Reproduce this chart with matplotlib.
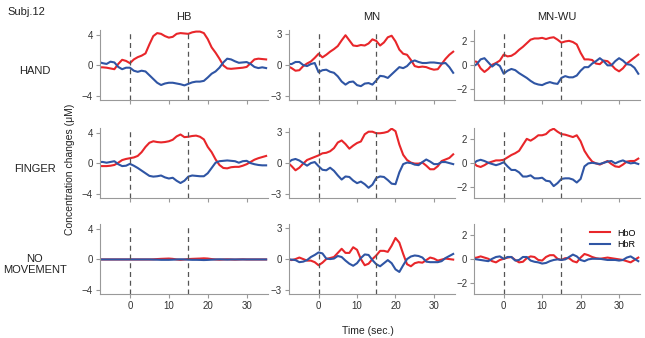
import numpy as np
import matplotlib
matplotlib.use("Agg")
import matplotlib.pyplot as plt

plt.rcParams['font.family'] = ['Liberation Sans', 'DejaVu Sans']

# time axis (sec.), one sample per second
t = np.arange(-8, 36)

conditions = ['HB', 'MN', 'MN-WU']
tasks = ['HAND', 'FINGER', 'NO\nMOVEMENT']
yticks = {'HB': [-4, 0, 4], 'MN': [-3, 0, 3], 'MN-WU': [-2, 0, 2]}
ylims = {'HB': (-4.6, 4.7), 'MN': (-3.4, 3.4), 'MN-WU': (-2.95, 2.9)}

# ---- HAND ----
hand_hb_hbo = [-0.25, -0.25, -0.3, -0.4, -0.5, 0.2, 0.75, 0.6, 0.3, 0.8, 1.1, 1.3, 1.6, 2.8,
               3.9, 4.3, 4.2, 3.9, 3.7, 3.8, 4.2, 4.3, 4.25, 4.2, 4.4, 4.5, 4.5, 4.3, 3.5, 2.4,
               1.7, 0.9, 0.0, -0.4, -0.45, -0.4, -0.35, -0.3, -0.2, 0.3, 0.8, 0.9, 0.85, 0.8]
hand_hb_hbr = [0.45, 0.3, 0.2, 0.5, 0.4, -0.2, -0.5, -0.3, -0.3, -0.7, -0.85, -0.7, -0.8, -1.3,
               -1.8, -2.3, -2.6, -2.4, -2.3, -2.3, -2.4, -2.5, -2.65, -2.45, -2.25, -2.15, -2.15,
               -2.05, -1.6, -1.1, -0.8, -0.3, 0.4, 0.9, 0.8, 0.55, 0.35, 0.4, 0.45, 0.2, -0.2,
               -0.35, -0.25, -0.35]
hand_mn_hbo = [-0.1, -0.3, -0.55, -0.5, -0.1, 0.15, 0.35, 0.7, 1.1, 0.75, 1.0, 1.3, 1.55, 1.85,
               2.4, 2.9, 2.4, 1.9, 1.85, 1.95, 1.9, 2.1, 2.5, 2.35, 1.9, 2.2, 2.7, 2.85, 2.3, 1.5,
               1.1, 1.0, 0.5, -0.1, -0.2, -0.15, -0.2, -0.35, -0.45, -0.4, 0.1, 0.6, 1.0, 1.3]
hand_mn_hbr = [0.1, 0.1, 0.3, 0.3, 0.0, -0.1, 0.1, 0.2, -0.7, -0.5, -0.45, -0.65, -0.75, -1.1,
               -1.6, -1.9, -1.65, -1.6, -1.95, -2.05, -1.8, -1.75, -1.9, -1.5, -1.05, -1.1, -1.25,
               -0.9, -0.55, -0.2, -0.3, -0.1, 0.3, 0.45, 0.3, 0.2, 0.2, 0.25, 0.25, 0.2, 0.15,
               0.2, -0.2, -0.75]
hand_wu_hbo = [0.3, 0.25, -0.3, -0.6, -0.35, 0.0, 0.15, 0.35, 0.85, 0.7, 0.75, 0.95, 1.25, 1.5,
               1.8, 2.1, 2.2, 2.2, 2.25, 2.15, 2.25, 2.3, 2.1, 1.85, 1.95, 2.0, 1.9, 1.7, 1.0,
               0.45, 0.45, 0.4, 0.1, 0.05, 0.35, 0.3, 0.0, -0.35, -0.55, -0.3, 0.1, 0.35, 0.6, 0.85]
hand_wu_hbr = [-0.15, 0.05, 0.45, 0.55, 0.2, -0.15, 0.1, -0.1, -0.75, -0.5, -0.35, -0.45, -0.7,
               -0.9, -1.1, -1.35, -1.55, -1.65, -1.7, -1.55, -1.45, -1.55, -1.6, -1.1, -0.95,
               -1.05, -1.05, -0.9, -0.5, -0.2, -0.2, 0.1, 0.3, 0.55, 0.3, -0.05, -0.05, 0.3, 0.55,
               0.35, 0.05, 0.0, -0.25, -0.75]

# ---- FINGER ----
finger_hb_hbo = [-0.35, -0.35, -0.35, -0.3, -0.2, 0.1, 0.45, 0.6, 0.7, 0.8, 1.0, 1.5, 2.2, 2.75,
                 2.95, 2.85, 2.8, 2.85, 2.95, 3.15, 3.6, 3.85, 3.5, 3.55, 3.65, 3.7, 3.55, 3.2,
                 2.2, 1.5, 0.55, -0.2, -0.6, -0.65, -0.5, -0.45, -0.45, -0.3, -0.1, 0.2, 0.5,
                 0.7, 0.85, 1.0]
finger_hb_hbr = [0.2, 0.2, 0.1, 0.2, 0.3, -0.1, -0.35, -0.3, -0.05, -0.3, -0.6, -0.95, -1.3,
                 -1.65, -1.75, -1.7, -1.6, -1.85, -2.0, -1.9, -2.3, -2.6, -2.3, -1.75, -1.6,
                 -1.65, -1.7, -1.7, -1.3, -0.6, 0.1, 0.3, 0.35, 0.4, 0.35, 0.3, 0.1, 0.3, 0.35,
                 0.05, -0.1, -0.2, -0.25, -0.25]
finger_mn_hbo = [0.05, -0.3, -0.7, -0.45, -0.05, 0.3, 0.45, 0.6, 0.75, 0.95, 1.0, 1.15, 1.45,
                 2.0, 2.2, 1.85, 1.4, 1.7, 1.95, 2.1, 2.8, 3.05, 3.05, 2.9, 2.9, 2.95, 3.05, 3.35,
                 3.1, 1.8, 0.8, 0.3, 0.05, -0.05, -0.05, 0.05, -0.25, -0.6, -0.6, -0.3, 0.2, 0.35,
                 0.5, 0.85]
finger_mn_hbr = [0.0, 0.3, 0.4, 0.25, 0.0, -0.25, 0.0, 0.1, -0.3, -0.65, -0.7, -0.45, -0.75,
                 -1.2, -1.6, -1.3, -1.35, -1.7, -1.95, -1.8, -2.05, -2.4, -2.1, -1.45, -1.3,
                 -1.35, -1.65, -2.0, -2.05, -0.9, -0.1, 0.05, 0.0, -0.15, -0.2, 0.1, 0.35, 0.15,
                 -0.1, -0.1, 0.1, 0.1, 0.0, -0.1]
finger_wu_hbo = [0.05, -0.25, -0.35, -0.2, 0.0, 0.1, 0.2, 0.2, 0.25, 0.45, 0.65, 0.8, 1.0, 1.5,
                 2.0, 1.85, 2.05, 2.3, 2.3, 2.4, 2.7, 2.85, 2.6, 2.4, 2.35, 2.25, 2.15, 2.3, 1.8,
                 1.0, 0.5, 0.1, -0.05, -0.15, 0.0, 0.15, -0.1, -0.3, -0.35, -0.15, 0.1, 0.15,
                 0.15, 0.35]
finger_wu_hbr = [-0.1, 0.15, 0.25, 0.15, 0.0, -0.1, -0.2, -0.1, 0.05, -0.3, -0.6, -0.6, -0.8,
                 -1.15, -1.15, -1.05, -1.3, -1.3, -1.25, -1.5, -1.55, -1.95, -1.7, -1.35, -1.3,
                 -1.3, -1.4, -1.65, -1.35, -0.3, -0.05, 0.0, -0.05, -0.1, 0.0, 0.1, 0.15, -0.05,
                 0.1, 0.2, 0.05, -0.05, 0.0, -0.1]

# ---- NO MOVEMENT ----
nomove_hb_hbo = [0.0, 0.0, 0.0, 0.0, 0.0, 0.0, 0.0, 0.0, 0.0, 0.0, 0.0, 0.0, 0.0, 0.0, 0.02,
                 0.05, 0.08, 0.1, 0.12, 0.08, 0.0, -0.05, 0.0, 0.05, 0.08, 0.1, 0.12, 0.15, 0.12,
                 0.05, 0.0, -0.03, 0.0, 0.02, 0.0, -0.02, 0.0, 0.02, 0.0, 0.0, 0.0, 0.0, 0.0, 0.0]
nomove_hb_hbr = [0.0, 0.0, 0.0, 0.0, 0.0, 0.0, 0.0, 0.0, 0.0, 0.0, 0.0, 0.0, 0.0, 0.0, -0.02,
                 -0.03, -0.05, -0.05, -0.05, -0.03, 0.0, 0.02, 0.0, -0.03, -0.05, -0.05, -0.06,
                 -0.08, -0.06, -0.03, 0.0, 0.02, 0.0, -0.02, 0.0, 0.0, 0.0, 0.0, 0.0, 0.0, 0.0,
                 0.0, 0.0, 0.0]
nomove_mn_hbo = [0.0, -0.1, 0.0, 0.15, 0.0, -0.15, -0.15, -0.3, -0.6, -0.35, 0.0, 0.1, 0.2, 0.6,
                 1.0, 0.6, 0.6, 1.15, 0.9, 0.0, -0.6, -0.45, 0.0, 0.35, 0.8, 0.8, 0.7, 1.3, 2.05,
                 1.6, 0.5, -0.5, -0.7, -0.4, -0.3, -0.35, -0.1, 0.15, 0.05, -0.15, -0.05, 0.05,
                 0.0, -0.05]
nomove_mn_hbr = [-0.05, -0.05, -0.1, -0.3, -0.25, -0.1, 0.2, 0.4, 0.65, 0.55, 0.05, 0.0, 0.05,
                 0.3, 0.2, -0.15, -0.45, -0.65, -0.4, 0.1, 0.45, 0.4, -0.1, -0.5, -0.7, -0.4,
                 -0.1, -0.4, -1.0, -1.25, -0.6, 0.0, 0.25, 0.35, 0.3, 0.15, -0.25, -0.3, -0.3,
                 -0.3, -0.2, 0.1, 0.3, 0.5]
nomove_wu_hbo = [0.05, 0.1, 0.2, 0.1, 0.0, -0.2, -0.3, -0.1, 0.0, 0.1, 0.15, -0.1, -0.3, -0.25,
                 0.05, 0.2, 0.15, -0.1, -0.15, 0.15, 0.3, 0.3, 0.0, -0.1, 0.05, 0.05, -0.2, -0.3,
                 0.1, 0.4, 0.3, 0.15, 0.05, 0.0, 0.05, 0.1, 0.05, 0.0, -0.05, -0.1, -0.2, -0.3,
                 -0.1, 0.1]
nomove_wu_hbr = [0.0, -0.05, -0.1, -0.15, -0.2, 0.0, 0.15, 0.2, 0.0, 0.15, 0.15, -0.15, -0.1,
                 0.15, 0.15, -0.15, -0.25, -0.3, -0.4, -0.35, -0.2, -0.1, -0.05, -0.1, -0.05,
                 0.15, 0.35, 0.2, -0.1, -0.2, -0.05, 0.0, 0.0, 0.0, -0.05, -0.1, -0.1, -0.1,
                 -0.15, -0.1, 0.1, 0.2, 0.0, -0.2]

hbo = [[hand_hb_hbo, hand_mn_hbo, hand_wu_hbo],
       [finger_hb_hbo, finger_mn_hbo, finger_wu_hbo],
       [nomove_hb_hbo, nomove_mn_hbo, nomove_wu_hbo]]
hbr = [[hand_hb_hbr, hand_mn_hbr, hand_wu_hbr],
       [finger_hb_hbr, finger_mn_hbr, finger_wu_hbr],
       [nomove_hb_hbr, nomove_mn_hbr, nomove_wu_hbr]]

red = '#e8262a'
blue = '#2f55a4'
grey = '#555555'

fig = plt.figure(figsize=(6.45, 3.38), dpi=100)

lefts = [0.155, 0.448, 0.735]
widths = [0.260, 0.257, 0.257]
bottoms = [0.704, 0.414, 0.130]
height = 0.207

for r in range(3):
    for c in range(3):
        ax = fig.add_axes([lefts[c], bottoms[r], widths[c], height])
        cond = conditions[c]
        l1, = ax.plot(t, hbo[r][c], color=red, lw=1.5, label='HbO')
        l2, = ax.plot(t, hbr[r][c], color=blue, lw=1.5, label='HbR')
        ax.axvline(0, color=grey, ls=(0, (4, 3)), lw=0.9)
        ax.axvline(15, color=grey, ls=(0, (4, 3)), lw=0.9)
        ax.set_xlim(-7.7, 35.4)
        ax.set_ylim(*ylims[cond])
        ax.set_yticks(yticks[cond])
        ax.set_yticklabels([str(v).replace('-', '\u2212') for v in yticks[cond]])
        ax.set_xticks([0, 10, 20, 30])
        if r < 2:
            ax.set_xticklabels([])
        for s in ['top', 'right']:
            ax.spines[s].set_visible(False)
        for s in ['left', 'bottom']:
            ax.spines[s].set_color('#999999')
            ax.spines[s].set_linewidth(0.8)
        ax.tick_params(colors='#999999', labelcolor='#333333', labelsize=7,
                       length=3, width=0.8, pad=2)
        if r == 0:
            ax.set_title(cond, fontsize=8, color='#222222', pad=7)
        if r == 2 and c == 2:
            ax.legend(handles=[l1, l2], loc='upper right', frameon=False, fontsize=6.5,
                      handlelength=2.2, borderaxespad=0.1, labelspacing=0.3)

for r in range(3):
    fig.text(0.054, bottoms[r] + height * 0.42, tasks[r], ha='center', va='center',
             fontsize=8, color='#222222')

fig.text(0.012, 0.965, 'Subj.12', ha='left', va='center', fontsize=8, color='#222222')
fig.text(0.108, 0.5, 'Concentration changes (\u03bcM)', rotation=90, ha='center',
         va='center', fontsize=7.5, color='#222222')
fig.text(0.57, 0.022, 'Time (sec.)', ha='center', va='center', fontsize=7.5, color='#222222')

fig.savefig('out.png', dpi=100)
